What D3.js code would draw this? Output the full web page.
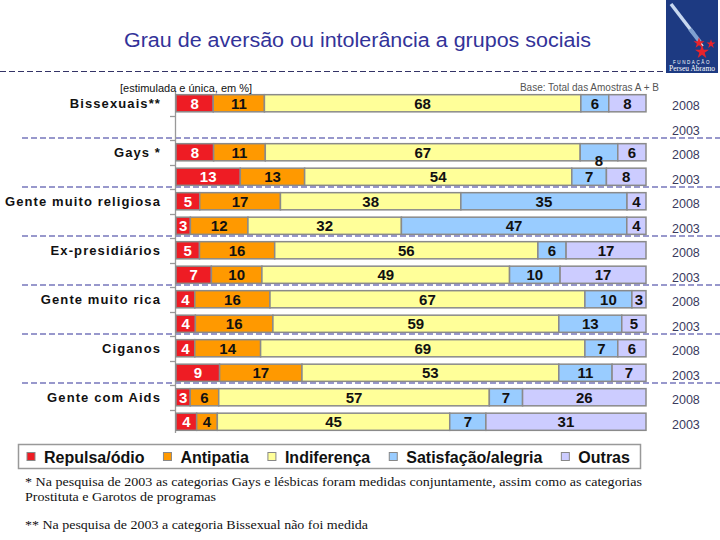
<!DOCTYPE html>
<html><head><meta charset="utf-8">
<script src="https://cdn.jsdelivr.net/npm/d3@7"></script>
<style>
html,body{margin:0;padding:0;background:#fff;}
svg{display:block;}
</style></head>
<body>
<script>
// ---------- DATA ----------
const groups = ["Bissexuais**","Gays *","Gente muito religiosa","Ex-presidiários","Gente muito rica","Ciganos","Gente com Aids"];
const years = ["2008","2003"];
const seriesKeys = ["repulsa","antipatia","indiferenca","satisfacao","outras"];
const seriesNames = ["Repulsa/ódio","Antipatia","Indiferença","Satisfação/alegria","Outras"];
// one value per row: group i 2008, group i 2003
const repulsa     = [8,null, 8,13, 5, 3, 5, 7, 4, 4, 4, 9, 3, 4];
const antipatia   = [11,null,11,13,17,12,16,10,16,16,14,17, 6, 4];
const indiferenca = [68,null,67,54,38,32,56,49,67,59,69,53,57,45];
const satisfacao  = [6,null, 8, 7,35,47, 6,10,10,13, 7,11, 7, 7];
const outras      = [8,null, 6, 8, 4, 4,17,17, 3, 5, 6, 7,26,31];
const title = "Grau de aversão ou intolerância a grupos sociais";
const subtitle = "[estimulada e única, em %]";
const baseNote = "Base: Total das Amostras A + B";
const footnotes = ["* Na pesquisa de 2003 as categorias Gays e lésbicas foram medidas conjuntamente, assim  como as categorias",
                   "Prostituta e Garotos de programas",
                   "** Na pesquisa de 2003 a categoria Bissexual não foi medida"];

// ---------- BUILD ----------
const colors = ["#ee1c24","#ff9900","#ffff99","#99ccff","#ccccff"];
const seriesVals = [repulsa,antipatia,indiferenca,satisfacao,outras];
const rows = [];
groups.forEach((g,gi)=>years.forEach((y,yi)=>{
  const idx = gi*2+yi;
  const r = {id: g+"|"+y, group:g, year:y, idx};
  seriesKeys.forEach((k,ki)=>r[k]=seriesVals[ki][idx]);
  rows.push(r);
}));

const W=720,H=540;
const svg = d3.select("body").append("svg").attr("width",W).attr("height",H);

const x = d3.scaleLinear().domain([0,1]).range([176,646]);
const y = d3.scaleBand().domain(rows.map(r=>r.id)).range([91,434]).paddingInner(0.3).paddingOuter(0.15);
const color = d3.scaleOrdinal().domain(seriesKeys).range(colors);

const stack = d3.stack().keys(seriesKeys).value((d,k)=>d[k]||0).offset(d3.stackOffsetExpand);
const stacked = stack(rows);

// header
svg.append("text").attr("x",124).attr("y",47)
  .attr("font-family","Liberation Sans, Arial, sans-serif").attr("font-size",20)
  .attr("textLength",467).attr("lengthAdjust","spacingAndGlyphs")
  .attr("fill","#333399").text(title);
svg.append("line").attr("x1",0).attr("x2",664).attr("y1",71.5).attr("y2",71.5)
  .attr("stroke","#333366").attr("stroke-width",1.2).attr("stroke-dasharray","6,3");

// logo
const logo = svg.append("g");
logo.append("rect").attr("x",666).attr("y",0).attr("width",52).attr("height",73).attr("fill","#1d3a82");
logo.append("line").attr("x1",671).attr("y1",4).attr("x2",694).attr("y2",34).attr("stroke","#c8d8f0").attr("stroke-width",3.5);
logo.append("line").attr("x1",690).attr("y1",29).attr("x2",700).attr("y2",42).attr("stroke","#7fa0d0").attr("stroke-width",4);
logo.append("line").attr("x1",700).attr("y1",42).attr("x2",703).attr("y2",46).attr("stroke","#eee").attr("stroke-width",1.5);
const star = d3.symbol().type(d3.symbolStar);
[[699,43,38],[711,44,26],[702,52,60]].forEach(([sx,sy,s])=>{
  logo.append("path").attr("d",star.size(s)()).attr("transform",`translate(${sx},${sy})`).attr("fill","#e8232b");
});
logo.append("text").attr("x",692).attr("y",64).attr("text-anchor","middle").attr("font-family","Liberation Sans, Arial")
  .attr("font-size",4.5).attr("letter-spacing",1.6).attr("fill","#fff").text("FUNDAÇÃO");
logo.append("text").attr("x",692).attr("y",71).attr("text-anchor","middle").attr("font-family","Liberation Serif, Times New Roman")
  .attr("font-size",7.5).attr("fill","#fff").text("Perseu Abramo");

svg.append("text").attr("x",120).attr("y",92).attr("font-family","Liberation Sans, Arial, sans-serif")
  .attr("font-size",11).attr("fill","#111").text(subtitle);
svg.append("text").attr("x",659).attr("y",91).attr("text-anchor","end").attr("font-family","Liberation Sans, Arial, sans-serif")
  .attr("font-size",10).attr("fill","#555").text(baseNote);

// separators between groups
const step = y.step();
groups.slice(1).forEach((g)=>{
  const yy = y(g+"|2008") - (step - y.bandwidth())/2 - 2;
  svg.append("line").attr("x1",22).attr("x2",720).attr("y1",yy).attr("y2",yy)
    .attr("stroke","#333399").attr("stroke-width",1.2).attr("stroke-dasharray","6,3");
});

// axis line and ticks
const yTop = y.range()[0], yBot = y.range()[1];
svg.append("line").attr("x1",175.5).attr("x2",175.5).attr("y1",yTop+1).attr("y2",yBot-1).attr("stroke","#999").attr("stroke-width",1.3);
rows.slice(1).forEach(r=>{
  const yy = Math.round(y(r.id) - (step - y.bandwidth())/2)+0.5;
  svg.append("line").attr("x1",170).attr("x2",175.5).attr("y1",yy).attr("y2",yy).attr("stroke","#999").attr("stroke-width",1.3);
});

// bars
const layer = svg.append("g").selectAll("g").data(stacked).join("g").attr("fill",d=>color(d.key));
layer.selectAll("rect").data(d=>d.filter(p=>p.data[d.key]!=null).map(p=>({p,key:d.key}))).join("rect")
  .attr("x",d=>x(d.p[0])).attr("width",d=>x(d.p[1])-x(d.p[0]))
  .attr("y",d=>y(d.p.data.id)).attr("height",y.bandwidth())
  .attr("stroke","#8a8a8a").attr("stroke-width",1.5);

// value labels
const labelNudge = {"Gays *|2008|satisfacao": 8};
const lab = svg.append("g");
stacked.forEach((s,si)=>{
  s.forEach(p=>{
    const v = p.data[s.key];
    if(v==null) return;
    const nudge = labelNudge[p.data.id+"|"+s.key]||0;
    lab.append("text").attr("x",(x(p[0])+x(p[1]))/2).attr("y",y(p.data.id)+y.bandwidth()/2+5.5+nudge)
      .attr("text-anchor","middle").attr("font-family","Liberation Sans, Arial, sans-serif")
      .attr("font-weight","bold").attr("font-size",15).attr("fill",si===0?"#fff":"#111").text(v);
  });
});

// group labels
groups.forEach(g=>{
  svg.append("text").attr("x",161).attr("y",y(g+"|2008")+y.bandwidth()/2+4.5).attr("text-anchor","end")
    .attr("font-family","Liberation Sans, Arial, sans-serif").attr("font-weight","bold").attr("font-size",13)
    .attr("letter-spacing",1.1).attr("fill","#111").text(g);
});
// year labels
rows.forEach(r=>{
  svg.append("text").attr("x",672).attr("y",y(r.id)+y.bandwidth()/2+7).attr("font-family","Liberation Sans, Arial, sans-serif")
    .attr("font-size",12.5).attr("fill","#3a3a5e").text(r.year);
});

// legend
const lg = svg.append("g");
lg.append("rect").attr("x",18.5).attr("y",444.5).attr("width",622).attr("height",24).attr("fill","#fff").attr("stroke","#999").attr("stroke-width",1.5);
let lx = 27;
seriesNames.forEach((n,i)=>{
  lg.append("rect").attr("x",lx).attr("y",452.5).attr("width",8).attr("height",8).attr("fill",colors[i]).attr("stroke","#888").attr("stroke-width",1);
  const t = lg.append("text").attr("x",lx+17).attr("y",463).attr("font-family","Liberation Sans, Arial, sans-serif")
    .attr("font-weight","bold").attr("font-size",16).attr("fill","#111").text(n);
  lx += 17 + t.node().getComputedTextLength() + 19;
});

// footnotes
const fy = [486,501,529];
const fw = [617,191,343];
footnotes.forEach((f,i)=>{
  svg.append("text").attr("x",25).attr("y",fy[i]).attr("font-family","Liberation Serif, Times New Roman, serif")
    .attr("font-size",13).attr("textLength",fw[i]).attr("lengthAdjust","spacingAndGlyphs")
    .attr("fill","#111").text(f);
});
</script>
</body></html>
